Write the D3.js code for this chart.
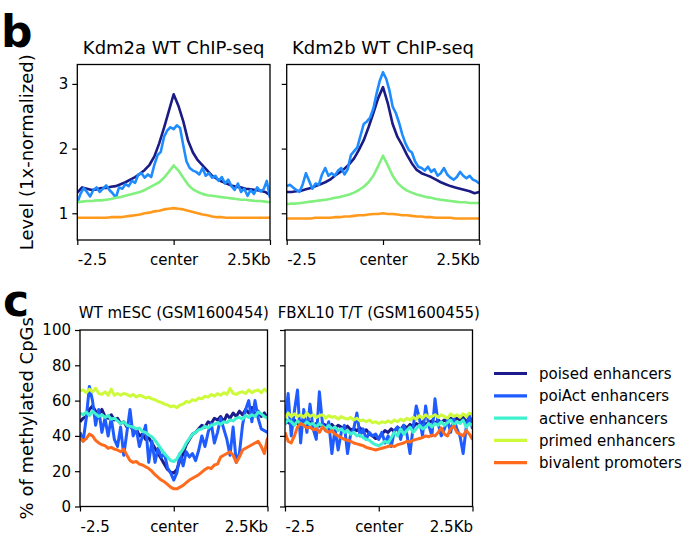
<!DOCTYPE html>
<html>
<head>
<meta charset="utf-8">
<script src="https://cdn.jsdelivr.net/npm/d3@7"></script>
<style>
  body { margin: 0; background: #fff; }
  svg { display: block; }
  text { font-family: "DejaVu Sans", sans-serif; fill: #000; }
</style>
</head>
<body>
<svg id="fig" width="694" height="535"></svg>
<script>
// ---- shared axis content ----
const xTickValues = [-2.5, 0, 2.5];
const xTickLabels = ["-2.5", "center", "2.5Kb"];
const chipYTicks = [1, 2, 3];
const methYTicks = [0, 20, 40, 60, 80, 100];

const chipTitles = ["Kdm2a WT ChIP-seq", "Kdm2b WT ChIP-seq"];
const methTitles = ["WT mESC (GSM1600454)", "FBXL10 T/T (GSM1600455)"];
const legendLabels = ["poised enhancers", "poiAct enhancers", "active enhancers", "primed enhancers", "bivalent promoters"];

// ---- ChIP-seq profiles (1x-normalized level), bins from -2.5 to +2.5 kb ----
const kdm2aPoised = [1.32,1.40,1.38,1.36,1.37,1.39,1.39,1.41,1.42,1.45,1.48,1.52,1.56,1.61,1.67,1.75,1.88,2.08,2.32,2.58,2.84,2.66,2.42,2.12,1.94,1.82,1.74,1.66,1.58,1.53,1.49,1.46,1.43,1.41,1.40,1.38,1.37,1.36,1.35,1.33,1.28];
const kdm2aPoiAct = [1.16,1.30,1.39,1.33,1.26,1.36,1.40,1.33,1.38,1.43,1.36,1.31,1.24,1.40,1.38,1.45,1.42,1.50,1.47,1.60,1.62,1.55,1.60,1.56,1.75,1.90,1.95,2.18,2.28,2.33,2.30,2.36,2.32,2.05,1.80,1.70,1.66,1.64,1.60,1.70,1.58,1.62,1.55,1.58,1.50,1.56,1.46,1.52,1.42,1.36,1.46,1.33,1.38,1.27,1.36,1.30,1.40,1.34,1.37,1.50,1.24];
const kdm2aActive = [1.17,1.18,1.19,1.19,1.20,1.20,1.21,1.22,1.24,1.25,1.27,1.29,1.31,1.33,1.36,1.40,1.44,1.48,1.55,1.64,1.74,1.66,1.55,1.44,1.37,1.33,1.30,1.28,1.27,1.26,1.25,1.24,1.23,1.22,1.21,1.21,1.20,1.19,1.19,1.18,1.17];
const kdm2aPromoters = [0.93,0.93,0.93,0.93,0.93,0.93,0.93,0.94,0.94,0.94,0.95,0.96,0.97,0.98,1.00,1.01,1.03,1.04,1.06,1.07,1.08,1.07,1.06,1.04,1.02,1.00,0.98,0.97,0.95,0.94,0.94,0.93,0.93,0.93,0.93,0.93,0.93,0.93,0.93,0.93,0.93];

const kdm2bPoised = [1.33,1.33,1.34,1.35,1.37,1.39,1.42,1.45,1.48,1.52,1.58,1.63,1.69,1.76,1.85,1.98,2.13,2.33,2.55,2.78,2.95,2.70,2.38,2.18,2.05,1.90,1.77,1.67,1.62,1.59,1.56,1.52,1.48,1.45,1.42,1.40,1.38,1.36,1.34,1.31,1.33];
const kdm2bPoiAct = [1.42,1.44,1.40,1.36,1.33,1.45,1.62,1.50,1.38,1.46,1.44,1.60,1.70,1.58,1.62,1.58,1.66,1.70,1.60,1.68,1.90,1.96,2.02,2.20,2.38,2.42,2.48,2.62,2.85,3.05,3.18,3.08,2.90,2.65,2.55,2.40,2.22,2.08,1.98,1.94,1.80,1.72,1.70,1.66,1.72,1.64,1.68,1.58,1.62,1.70,1.60,1.55,1.52,1.56,1.64,1.58,1.54,1.58,1.52,1.50,1.46];
const kdm2bActive = [1.14,1.15,1.15,1.16,1.17,1.18,1.19,1.20,1.21,1.22,1.24,1.25,1.27,1.29,1.32,1.36,1.41,1.48,1.58,1.73,1.89,1.74,1.58,1.47,1.40,1.35,1.32,1.29,1.27,1.25,1.24,1.22,1.21,1.20,1.19,1.18,1.17,1.17,1.16,1.16,1.16];
const kdm2bPromoters = [0.92,0.92,0.92,0.92,0.92,0.92,0.93,0.93,0.93,0.93,0.94,0.94,0.95,0.95,0.96,0.97,0.97,0.98,0.99,0.99,1.00,0.99,0.99,0.98,0.97,0.97,0.96,0.95,0.95,0.94,0.94,0.93,0.93,0.93,0.93,0.92,0.92,0.92,0.92,0.92,0.92];

// ---- CpG methylation (% methylated), bins from -2.5 to +2.5 kb ----
const wtPoised = [48,50,51,55,57,54,52,55,51,50,52,49,50,47,48,45,46,43,44,40,41,38,39,36,33,30,27,24,21,19.5,19,21,26,30,35,38,41,42,44,46,45,48,47,50,49,51,48,52,50,53,51,54,52,55,53,56,52,54,51,53,50];
const wtPoiAct = [42,37,50,68,60,46,55,42,50,40,50,38,34,45,29,42,55,40,44,34,40,46,25,37,25,33,28,30,22,19,15,19,30,23,31,28,30,26,32,40,34,42,47,36,42,50,44,38,29,45,25,30,46,55,60,48,60,50,44,43,42];
const wtActive = [53,52,53.5,51.5,54,52.5,51,52,50.5,51.5,49.5,50,48.5,47,48,46,45.5,45,44,44.5,42.5,42,40.5,39.5,37.5,35,32.5,30,28,26,25.5,27,30,32.5,36,38.5,41,42,43.5,44,45.5,44.5,46,46.5,47.5,46.5,48,47.5,49,48.5,50,50.5,49.5,51.5,50.5,52,51,53.5,52.5,51,50];
const wtPrimed = [65.5,66,64.5,66.5,65,67,64,63.5,65,63,66.5,63,64,63,64,63.5,62.5,63.5,62,63,62.5,61.5,62,61,60.5,59.5,59,58,57.5,56.5,57,56,57.5,58,59.5,59,60.5,60,61.5,61,62.5,62,63.5,62.5,64,63,64.5,63.5,67,64,63.5,64.5,65,64,66,64.5,65.5,66,64.5,66.5,65];
const wtBivalent = [39,37,38.5,41,40,37.5,36,35,34.5,33,33.5,32.5,32,31,32.5,29,26,25,25.5,24,23.5,22.5,21.5,20,18,16.5,15,14,12.5,11,10,10,11,12,13.5,15,16,17,18,19.5,21,22,21.5,23.5,24,28,29,30,31,29,25,28,32,33,34,35,36,37,34,30,39];

const ttPoised = [47,48,46,49,47,48.5,46,47.5,48,46,47,45.5,47,46,45,46.5,44.5,46,45,44,45.5,43.5,44,43,44.5,42,43.5,41,40,38.5,39,41,43,42,44,42.5,45,43.5,46,44.5,46.5,45,47,46,48,46.5,47.5,48.5,47,49,47.5,49,48,50,48.5,50,49,50.5,48,50,49];
const ttPoiAct = [48,64,40,54,66,36,55,42,58,44,38,65,47,43,48,30,44,32,42,46,30,41,44,53,40,44,38,42,40,41,38,42,36,40,34,43,45,38,46,41,30,45,57,50,40,57,46,40,61,47,40,44,49,42,50,44,40,30,45,52,44];
const ttActive = [47,49,48,46,48.5,47,46,48,46.5,47,45,47,45.5,44,46,44,45,43,44,42,43,41,42,40,40.5,39,38,37.5,36,35,34.5,35.5,37,36,39,42,40,44,41,43,45,42,44,46,44,45,47,45,47,46,48,46,47.5,49,46,48,47,49,45,47,46];
const ttPrimed = [50,53,51,52.5,51,52,50.5,53,51,52,50.5,51.5,52,50,51.5,50.5,51,49.5,51,50,49.5,50.5,49,50,48.5,49,48,49,47.5,48,47,48,47.5,48.5,47.5,49,48,49.5,48.5,50,49,50.5,49.5,51.5,50,52,50.5,51,52,50.5,52,51,50,52.5,51,52,50.5,52.5,51,53,52];
const ttBivalent = [42,37,36,40,45,47,46,44.5,45,43.5,44,42,45,43,42,43,41,40,39,38,37.5,37,36,35.5,35,34.5,33.5,33,32.5,32,32.5,33,33.5,34,34.5,34,35,35.5,36,37,36.5,37.5,38,38.5,39,40,39.5,40.5,40,42,44.5,41,40,44,45.5,42,41,40,43,41,38];

// ---- colours ----
const chipColors = ["#1b1b86", "#1e8cff", "#82f07e", "#ff9a1c"];
const methColors = ["#1c1c8c", "#1f5cff", "#3ff2cf", "#cdfa3a", "#ff6a1c"];

const svg = d3.select("#fig");
const kbExtent = [-2.5, 2.5];
const FONT = '"DejaVu Sans", sans-serif';

// pair each bin value with its genomic offset (kb)
function binned(values) {
  const pos = d3.scaleLinear().domain([0, values.length - 1]).range(kbExtent);
  return values.map((v, i) => [pos(i), v]);
}

let clipCount = 0;
function drawPanel(box, yDomain, yTicks, showYLabels, seriesList, colors, lineWidth) {
  const x = d3.scaleLinear().domain(kbExtent).range([box.x0, box.x1]);
  const y = d3.scaleLinear().domain(yDomain).range([box.y1, box.y0]);
  const g = svg.append("g");

  const clipId = "clip" + (clipCount++);
  g.append("clipPath").attr("id", clipId)
    .append("rect").attr("x", box.x0).attr("y", box.y0)
    .attr("width", box.x1 - box.x0).attr("height", box.y1 - box.y0);

  const line = d3.line().x(d => x(d[0])).y(d => y(d[1]));
  const lines = g.append("g").attr("clip-path", `url(#${clipId})`);
  seriesList.forEach((vals, k) => {
    lines.append("path")
      .datum(binned(vals))
      .attr("d", line)
      .attr("fill", "none")
      .attr("stroke", colors[k])
      .attr("stroke-width", lineWidth)
      .attr("stroke-linejoin", "round")
      .attr("stroke-linecap", "butt");
  });

  // x axis
  const gx = g.append("g").attr("transform", `translate(0,${box.y1})`)
    .call(d3.axisBottom(x).tickValues(xTickValues)
      .tickFormat((d, i) => xTickLabels[i]).tickSize(5).tickSizeOuter(0));
  gx.select(".domain").remove();
  gx.selectAll(".tick line").attr("stroke-width", 1.2);
  gx.selectAll("text")
    .attr("dy", null).attr("y", 25)
    .attr("font-size", 15).attr("font-family", FONT)
    .attr("text-anchor", (d, i) => i === 0 ? "start" : (i === xTickValues.length - 1 ? "end" : "middle"));

  // y axis
  const gy = g.append("g").attr("transform", `translate(${box.x0},0)`)
    .call(d3.axisLeft(y).tickValues(yTicks)
      .tickFormat(d => showYLabels ? d : "").tickSize(5).tickPadding(4).tickSizeOuter(0));
  gy.select(".domain").remove();
  gy.selectAll(".tick line").attr("stroke-width", 1.2);
  gy.selectAll("text").attr("font-size", 15).attr("font-family", FONT);

  // frame
  g.append("rect")
    .attr("x", box.x0).attr("y", box.y0)
    .attr("width", box.x1 - box.x0).attr("height", box.y1 - box.y0)
    .attr("fill", "none").attr("stroke", "#000").attr("stroke-width", 1.3);
  return g;
}

// ---- panel b: ChIP-seq ----
const chipBoxes = [
  { x0: 77.3, x1: 270, y0: 64.5, y1: 240 },
  { x0: 286.7, x1: 479.3, y0: 64.5, y1: 240 }
];
const chipDomain = [0.587, 3.30];
drawPanel(chipBoxes[0], chipDomain, chipYTicks, true,
  [kdm2aPoised, kdm2aPoiAct, kdm2aActive, kdm2aPromoters], chipColors, 2.6);
drawPanel(chipBoxes[1], chipDomain, chipYTicks, false,
  [kdm2bPoised, kdm2bPoiAct, kdm2bActive, kdm2bPromoters], chipColors, 2.6);

chipBoxes.forEach((b, i) => {
  svg.append("text").attr("x", (b.x0 + b.x1) / 2).attr("y", 54)
    .attr("text-anchor", "middle").attr("font-size", 18).text(chipTitles[i]);
});
svg.append("text")
  .attr("transform", `translate(33,${(chipBoxes[0].y0 + chipBoxes[0].y1) / 2}) rotate(-90)`)
  .attr("text-anchor", "middle").attr("font-size", 18).text("Level (1x-normalized)");

// ---- panel c: CpG methylation ----
const methBoxes = [
  { x0: 80, x1: 267.5, y0: 330, y1: 506.5 },
  { x0: 285, x1: 472.5, y0: 330, y1: 506.5 }
];
drawPanel(methBoxes[0], [0, 100], methYTicks, true,
  [wtPoised, wtPoiAct, wtActive, wtPrimed, wtBivalent], methColors, 3);
drawPanel(methBoxes[1], [0, 100], methYTicks, false,
  [ttPoised, ttPoiAct, ttActive, ttPrimed, ttBivalent], methColors, 3);

methBoxes.forEach((b, i) => {
  svg.append("text").attr("x", (b.x0 + b.x1) / 2).attr("y", 318)
    .attr("text-anchor", "middle").attr("font-size", 15).text(methTitles[i]);
});
svg.append("text")
  .attr("transform", `translate(33,${(methBoxes[0].y0 + methBoxes[0].y1) / 2}) rotate(-90)`)
  .attr("text-anchor", "middle").attr("font-size", 18).text("% of methylated CpGs");

// ---- legend ----
const legend = svg.append("g").attr("transform", "translate(494,373.5)");
legendLabels.forEach((lab, i) => {
  const row = legend.append("g").attr("transform", `translate(0,${i * 22.3})`);
  row.append("line").attr("x1", 0).attr("x2", 33).attr("y1", 0).attr("y2", 0)
    .attr("stroke", methColors[i]).attr("stroke-width", 3.2);
  row.append("text").attr("x", 45).attr("y", 5.5).attr("font-size", 15).text(lab);
});

// ---- panel letters ----
svg.append("text").attr("x", 1).attr("y", 47).attr("font-size", 44)
  .attr("font-weight", "bold").text("b");
svg.append("text").attr("x", 3).attr("y", 316).attr("font-size", 44)
  .attr("font-weight", "bold").text("c");
</script>
</body>
</html>
